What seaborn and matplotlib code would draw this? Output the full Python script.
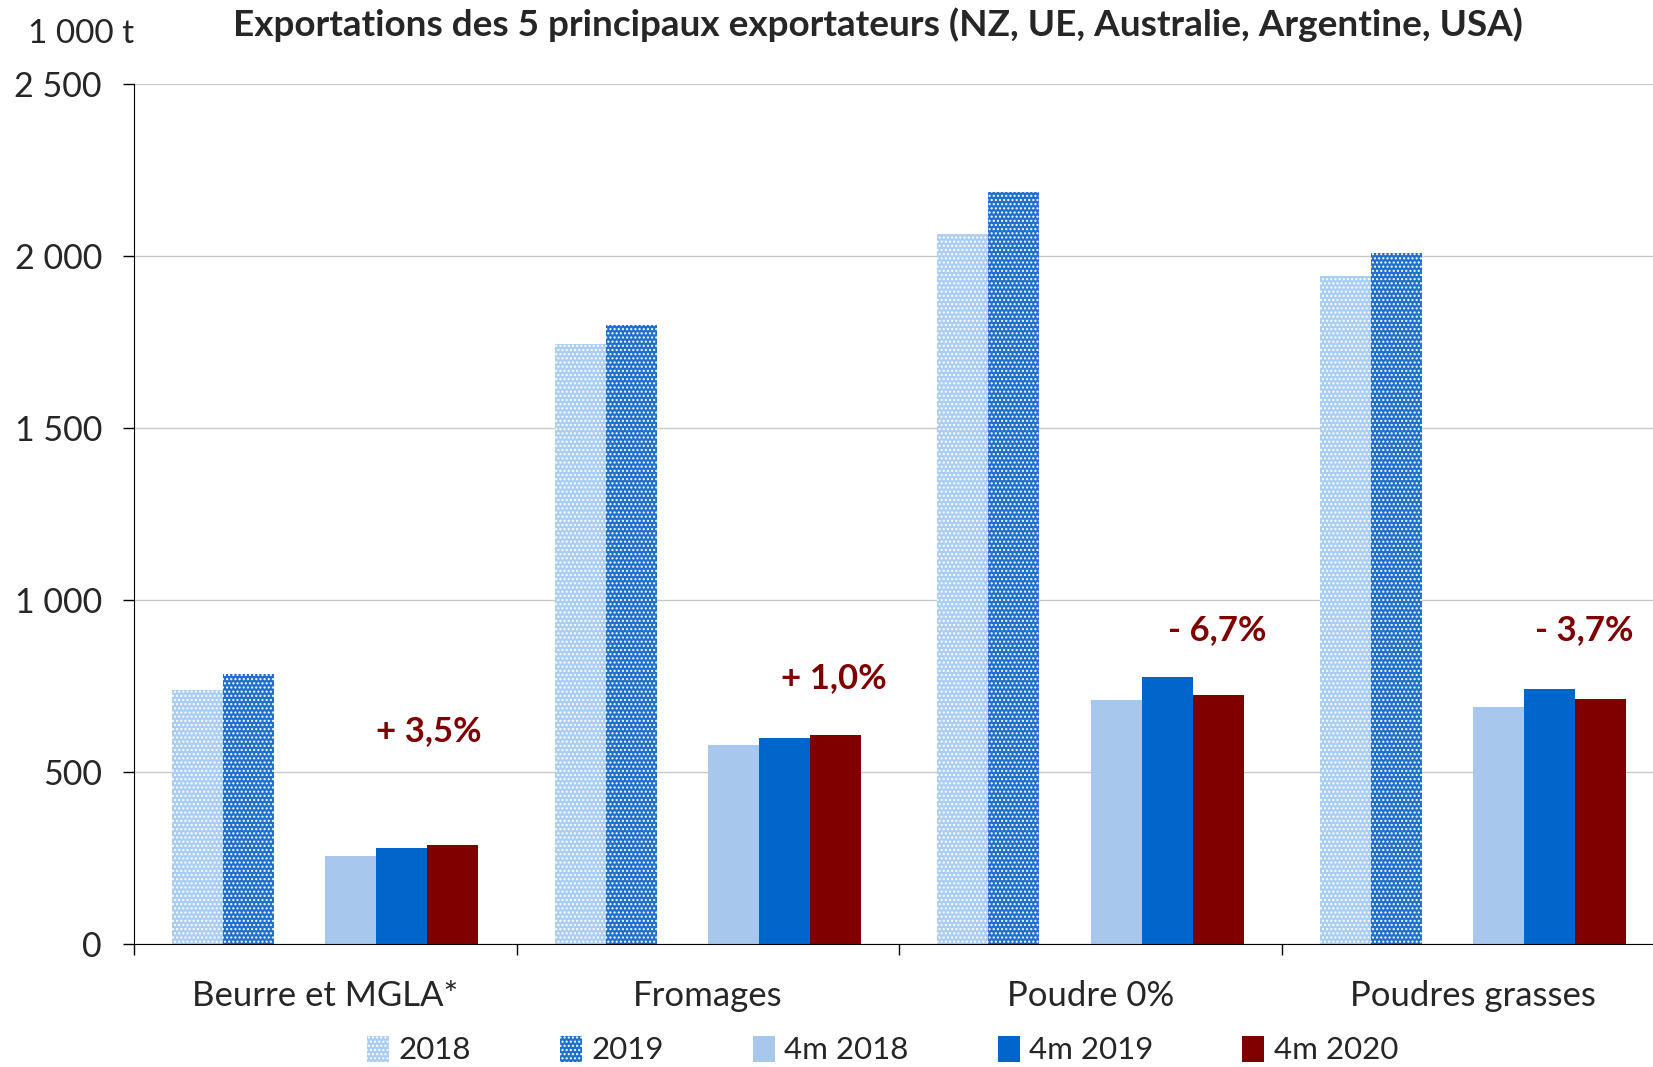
import pandas as pd
import matplotlib.pyplot as plt
import seaborn as sns
from matplotlib.patches import Patch
from matplotlib.colors import to_hex
from matplotlib.ticker import FuncFormatter

produits = ['Beurre et MGLA*', 'Fromages', 'Poudre 0%', 'Poudres grasses']
series = ['2018', '2019', '', '4m 2018', '4m 2019', '4m 2020']

v_2018 = [738, 1746, 2065, 1942]
v_2019 = [787, 1801, 2187, 2010]
v_4m_2018 = [257, 579, 711, 689]
v_4m_2019 = [279, 600, 778, 741]
v_4m_2020 = [288, 607, 726, 714]

variations = ['+ 3,5%', '+ 1,0%', '- 6,7%', '- 3,7%']

couleurs = {
    '2018': '#aacef3',
    '2019': '#1f6fcc',
    '': '#ffffff',
    '4m 2018': '#a7c8ec',
    '4m 2019': '#0066cc',
    '4m 2020': '#800000',
}
motifs = {'2018': '....', '2019': '....'}

lignes = []
for nom, vals in [('2018', v_2018), ('2019', v_2019), ('4m 2018', v_4m_2018),
                  ('4m 2019', v_4m_2019), ('4m 2020', v_4m_2020)]:
    for p, v in zip(produits, vals):
        lignes.append({'produit': p, 'serie': nom, 'valeur': v})
df = pd.DataFrame(lignes)

sns.set_style('white')
plt.rcParams['font.family'] = ['Lato', 'DejaVu Sans']
plt.rcParams['hatch.linewidth'] = 1.0

fig = plt.figure(figsize=(16.53, 10.67), dpi=100)
ax = fig.add_axes([0.081, 0.115, 0.919, 0.806])

sns.barplot(data=df, x='produit', y='valeur', hue='serie', hue_order=series,
            order=produits, palette=couleurs, width=0.8, dodge=True,
            legend=False, ax=ax, linewidth=0, saturation=1)

# motif pointillé blanc sur les années complètes
hachures = {couleurs[k]: v for k, v in motifs.items()}
for bar in ax.patches:
    bar.set_linewidth(0)
    c = to_hex(bar.get_facecolor())
    if c in hachures:
        bar.set_hatch(hachures[c])
        bar.set_edgecolor('white')

ax.set_ylim(0, 2500)
ax.set_xlim(-0.5, 3.47)
ax.set_yticks([0, 500, 1000, 1500, 2000, 2500])
ax.yaxis.set_major_formatter(FuncFormatter(lambda v, _: f'{int(v):,}'.replace(',', ' ')))
ax.grid(axis='y', color='#c8c8c8', linewidth=1)
ax.set_axisbelow(True)

ax.set_xticks([-0.5, 0.5, 1.5, 2.5])
ax.set_xticklabels([])
ax.set_xticks(range(len(produits)), minor=True)
ax.set_xticklabels(produits, minor=True)
ax.tick_params(axis='x', which='major', bottom=True, length=8, width=1, color='black', direction='out')
ax.tick_params(axis='x', which='minor', bottom=True, length=0, pad=26, labelsize=25)
ax.tick_params(axis='y', left=True, length=8, width=1, color='black', direction='out', labelsize=24.5, pad=15)
ax.set_xlabel('')
ax.set_ylabel('')

for s in ['top', 'right']:
    ax.spines[s].set_visible(False)
ax.spines['left'].set_color('black')
ax.spines['bottom'].set_color('black')

pos_x = [0.27, 0.33, 0.33, 0.29]
pos_y = [619, 775, 913, 913]
for i, t in enumerate(variations):
    ax.text(i + pos_x[i], pos_y[i], t, ha='center', va='center',
            fontsize=25, fontweight='bold', color='#800000')

fig.text(0.531, 0.977, 'Exportations des 5 principaux exportateurs (NZ, UE, Australie, Argentine, USA)',
         ha='center', va='center', fontsize=26.6, fontweight='bold')
fig.text(0.049, 0.968, '1 000 t', ha='center', va='center', fontsize=24)

handles = []
for s in series:
    if s == '':
        continue
    h = Patch(facecolor=couleurs[s], edgecolor='white' if s in motifs else couleurs[s],
              hatch=motifs.get(s), linewidth=0, label=s)
    handles.append(h)
fig.legend(handles=handles, loc='lower center', bbox_to_anchor=(0.534, -0.024), ncol=5,
           frameon=False, fontsize=22.5, handlelength=0.7, handleheight=0.9,
           handletextpad=0.3, columnspacing=2.85)

fig.savefig('out.png', dpi=100)
